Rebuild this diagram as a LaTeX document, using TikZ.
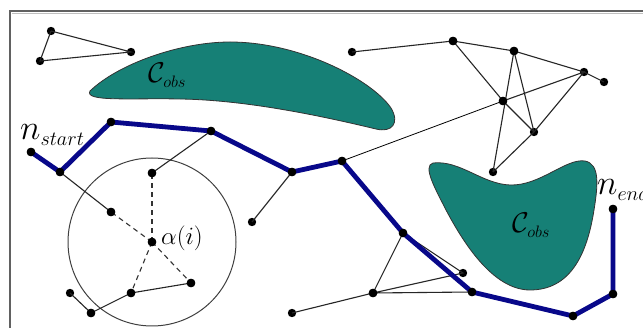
\documentclass[tikz,border=0pt]{standalone}
\usepackage{amsmath}
\usepackage{graphicx}
\begin{document}
\begin{tikzpicture}[x=1pt,y=-1pt,
  dot/.style={circle,fill=black,inner sep=0pt,minimum size=8.4pt},
  thin edge/.style={draw=black!85,line width=1.1pt},
  dash edge/.style={draw=black!80,line width=1.1pt,dash pattern=on 5pt off 4pt},
  pathline/.style={draw=navyblue,line width=4.8pt,line join=round},
  blob/.style={fill=tealobs,draw=black!80,line width=0.8pt},
  lbl/.style={inner sep=0pt,anchor=base west}]
\definecolor{navyblue}{RGB}{8,8,138}
\definecolor{tealobs}{RGB}{22,128,118}
\useasboundingbox (0,0) rectangle (643,328);
\fill[white] (0,0) rectangle (643,328);
% frame
\draw[black!25,line width=1.2pt] (12,13.5) -- (700,13.5);
\draw[black!62,line width=1.5pt] (10,400) -- (10,11) -- (700,11);

% obstacles
\path[blob] (90,91) .. controls (118,64) and (180,42) .. (230,42)
  .. controls (300,42) and (372,80) .. (391,108)
  .. controls (400,123) and (392,133) .. (376,129)
  .. controls (330,118) and (250,100) .. (180,99)
  .. controls (130,98) and (84,102) .. (90,91) -- cycle;
\path[blob] (433,163) .. controls (460,160) and (482,184) .. (510,185)
  .. controls (540,186) and (566,158) .. (585,161)
  .. controls (600,164) and (598,185) .. (594,210)
  .. controls (587,255) and (570,290) .. (530,290)
  .. controls (492,290) and (462,240) .. (446,210)
  .. controls (436,190) and (422,166) .. (433,163) -- cycle;

% circle around alpha(i)
\node[draw=black!75,line width=1pt,circle,minimum size=168pt,inner sep=0pt] (range) at (152,242) {};

% nodes
\node[dot] (t1) at (51,31) {};
\node[dot] (t2) at (131,52) {};
\node[dot] (t3) at (40,61) {};
\node[dot] (q1) at (352,52) {};
\node[dot] (sa) at (453,41) {};
\node[dot] (sb) at (514,51) {};
\node[dot] (sc) at (584,72) {};
\node[dot] (sd) at (604,82) {};
\node[dot] (se) at (503,101) {};
\node[dot] (sf) at (534,132) {};
\node[dot] (sg) at (493,172) {};
\node[dot] (c0) at (152,242) {};
\node[dot] (c1) at (152,173) {};
\node[dot] (c2) at (111,212) {};
\node[dot] (c3) at (191,283) {};
\node[dot] (c4) at (131,293) {};
\node[dot] (c5) at (91,313) {};
\node[dot] (c6) at (70,293) {};
\node[dot] (r1) at (252,222) {};
\node[dot] (b1) at (292,313) {};
\node[dot] (b2) at (373,293) {};
\node[dot] (b3) at (463,273) {};
\node[dot] (p1) at (31,152) {};
\node[dot] (p2) at (60,172) {};
\node[dot] (p3) at (111,122) {};
\node[dot] (p4) at (211,131) {};
\node[dot] (p5) at (292,172) {};
\node[dot] (p6) at (342,161) {};
\node[dot] (p7) at (403,233) {};
\node[dot] (p8) at (472,292) {};
\node[dot] (p9) at (573,316) {};
\node[dot] (p10) at (613,294) {};
\node[dot] (p11) at (613,209) {};

% thin edges
\draw[thin edge] (t1.center) -- (t2.center) -- (t3.center) -- (t1.center);
\draw[thin edge] (q1.center) -- (sa.center);
\draw[thin edge] (sa.center) -- (sb.center) -- (sc.center) -- (sd.center);
\draw[thin edge] (sa.center) -- (se.center) -- (sf.center);
\draw[thin edge] (sb.center) -- (sg.center);
\draw[thin edge] (sb.center) -- (sf.center);
\draw[thin edge] (se.center) -- (sc.center) -- (sf.center) -- (sg.center);
\draw[black,line width=0.8pt] (se.center) -- (p6.center);
\draw[thin edge] (p4.center) -- (c1.center);
\draw[thin edge] (p2.center) -- (c2.center);
\draw[thin edge] (c3.center) -- (c4.center) -- (c5.center) -- (c6.center);
\draw[thin edge] (p5.center) -- (r1.center);
\draw[thin edge] (b1.center) -- (b2.center) -- (p7.center) -- (b3.center) -- (b2.center) -- (p8.center);
% dashed edges to alpha(i)
\draw[dash edge] (c0.center) -- (c1.center);
\draw[dash edge] (c0.center) -- (c2.center);
\draw[dash edge] (c0.center) -- (c3.center);
\draw[dash edge] (c0.center) -- (c4.center);

% path
\draw[pathline] (p1.center) -- (p2.center) -- (p3.center) -- (p4.center) -- (p5.center) -- (p6.center) -- (p7.center) -- (p8.center) -- (p9.center) -- (p10.center) -- (p11.center);

% redraw dots on top
\foreach \n in {p1,p2,p3,p4,p5,p6,p7,p8,p9,p10,p11,c0,c1,c2,c3,c4,c5,b2,sa,sb,se}
  \fill (\n) circle (4.3pt);

% labels
\node[lbl] (lstart) at (20,140) {\scalebox{1.4}{\fontsize{24.88}{27}\selectfont$n_{\mbox{\fontsize{14.4}{16}\selectfont$start$}}$}};
\node[lbl] (lend) at (597,195) {\scalebox{1.4}{\fontsize{24.88}{27}\selectfont$n_{\mbox{\fontsize{14.4}{16}\selectfont$end$}}$}};
\node[lbl] (lobs1) at (148,83) {\scalebox{1.15}{\fontsize{24.88}{27}\selectfont$\mathcal{C}_{\mbox{\fontsize{14.4}{16}\selectfont$obs$}}$}};
\node[lbl] (lobs2) at (512,233) {\scalebox{1.15}{\fontsize{24.88}{27}\selectfont$\mathcal{C}_{\mbox{\fontsize{14.4}{16}\selectfont$obs$}}$}};
\node[lbl] (lalpha) at (161,245) {\fontsize{24.88}{27}\selectfont$\alpha(i)$};
\end{tikzpicture}
\end{document}
